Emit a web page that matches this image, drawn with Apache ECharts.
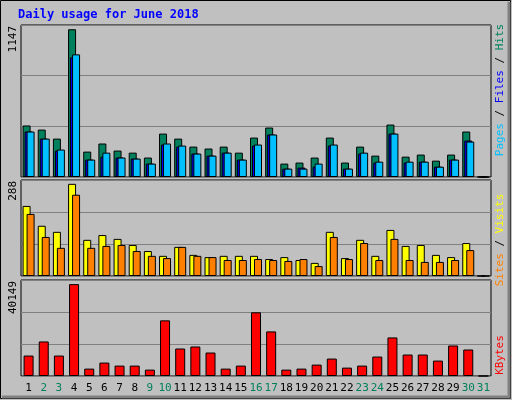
<!DOCTYPE html>
<html>
<head>
<meta charset="utf-8">
<script src="https://cdn.jsdelivr.net/npm/echarts@6/dist/echarts.min.js"></script>
<style>
html, body { margin: 0; padding: 0; background: #c0c0c0; }
#chart { width: 512px; height: 400px; }
</style>
</head>
<body>
<div id="chart"></div>
<script>
var days = ['1','2','3','4','5','6','7','8','9','10','11','12','13','14','15','16','17','18','19','20','21','22','23','24','25','26','27','28','29','30','31'];
var weekend = ['2','3','9','10','16','17','23','24','30','31'];
var hits = [400,368,298,1147,197,260,205,189,151,337,298,236,221,236,189,306,384,104,112,151,306,112,236,166,407,158,174,127,174,353,0];
var files = [353,298,205,929,135,158,151,143,104,252,236,182,166,189,135,244,330,65,73,80,244,65,182,112,337,112,119,80,135,283,0];
var pages = [353,298,213,952,135,189,151,143,104,260,244,182,166,189,135,252,330,65,65,104,252,65,189,119,337,119,119,80,135,275,0];
var visits = [219,157,138,288,113,128,116,97,78,63,91,66,59,63,63,63,53,59,50,41,138,56,113,63,144,94,97,66,59,103,0];
var sites = [194,122,88,254,88,94,97,78,63,56,91,63,59,50,50,53,50,47,53,31,122,53,103,50,116,50,44,44,50,81,0];
var kbytes = [8937,15090,8937,40149,3223,5860,4542,4542,2784,24320,12013,12893,10255,3223,4542,27836,19485,2784,3223,4981,7618,3663,4542,8497,16848,9376,9376,6739,13332,11574,0];

var mono = 'DejaVu Sans Mono';
var chart = echarts.init(document.getElementById('chart'));

function grid(top, height) {
	return { left: 21, right: 21, top: top, height: height, show: true, borderColor: '#000', borderWidth: 1, backgroundColor: 'transparent' };
}
function xAxis(idx, show) {
	return {
		type: 'category', gridIndex: idx, data: days, boundaryGap: true,
		axisLine: { show: false }, axisTick: { show: false },
		axisLabel: {
			show: show, interval: 0, margin: 7, fontFamily: mono, fontSize: 11, color: '#000',
			formatter: function(v) { return weekend.indexOf(v) >= 0 ? '{w|' + v + '}' : v; },
			rich: { w: { color: '#00805c', fontFamily: mono, fontSize: 11 } }
		}
	};
}
function yAxis(idx, max) {
	return {
		type: 'value', gridIndex: idx, min: 0, max: max, interval: max / 3,
		axisLabel: { show: false }, axisLine: { show: false }, axisTick: { show: false },
		splitLine: { lineStyle: { color: '#808080', width: 1 } }
	};
}
function bar(name, data, color, idx, width, gap) {
	return {
		name: name, type: 'bar', data: data, xAxisIndex: idx, yAxisIndex: idx,
		barWidth: width, barGap: gap, silent: true, animation: false,
		itemStyle: { color: color, borderColor: '#000', borderWidth: 1 }
	};
}
function sideLabel(x, y, text, rich) {
	return {
		type: 'text', x: x, y: y, rotation: Math.PI / 2,
		style: { text: text, fontFamily: mono, fontSize: 11, align: 'center', verticalAlign: 'middle', rich: rich }
	};
}
function maxLabel(y, text) {
	return {
		type: 'text', x: 13, y: y, rotation: Math.PI / 2,
		style: { text: text, fontFamily: mono, fontSize: 11, fill: '#000', align: 'right', verticalAlign: 'middle' }
	};
}
function rs(c) { return { fill: c, fontFamily: mono, fontSize: 11 }; }

chart.setOption({
	backgroundColor: '#c0c0c0',
	animation: false,
	grid: [grid(25, 152), grid(180, 96), grid(280, 96)],
	xAxis: [xAxis(0, false), xAxis(1, false), xAxis(2, true)],
	yAxis: [yAxis(0, 1180), yAxis(1, 300), yAxis(2, 41950)],
	series: [
		bar('Hits', hits, '#00805c', 0, 8, '-75%'),
		bar('Files', files, '#0000ff', 0, 8, '-75%'),
		bar('Pages', pages, '#00c0ff', 0, 8, '-75%'),
		bar('Visits', visits, '#ffff00', 1, 8, '-50%'),
		bar('Sites', sites, '#ff8000', 1, 8, '-50%'),
		bar('KBytes', kbytes, '#ff0000', 2, 10, '0%')
	],
	graphic: [
		{ type: 'rect', shape: { x: 0.5, y: 0.5, width: 510, height: 398 }, style: { fill: 'none', stroke: '#000', lineWidth: 1 } },
		{ type: 'polyline', shape: { points: [[2, 397], [509, 397], [509, 2]] }, style: { fill: 'none', stroke: '#808080', lineWidth: 3 } },
		{ type: 'text', x: 18, y: 9, style: { text: 'Daily usage for June 2018', fontFamily: mono, fontSize: 12, fontWeight: 'bold', fill: '#0000ff' } },
		maxLabel(26, '1147'),
		maxLabel(181, '288'),
		maxLabel(281, '40149'),
		sideLabel(500, 90, '{p|Pages}{s| / }{f|Files}{s| / }{h|Hits}', {
			p: rs('#00c0ff'), f: rs('#0000ff'), h: rs('#00805c'), s: rs('#000')
		}),
		sideLabel(500, 240, '{o|Sites}{s| / }{y|Visits}', {
			o: rs('#ff8000'), y: rs('#ffff00'), s: rs('#000')
		}),
		sideLabel(500, 355, '{r|KBytes}', { r: rs('#ff0000') })
	]
});
</script>
</body>
</html>
